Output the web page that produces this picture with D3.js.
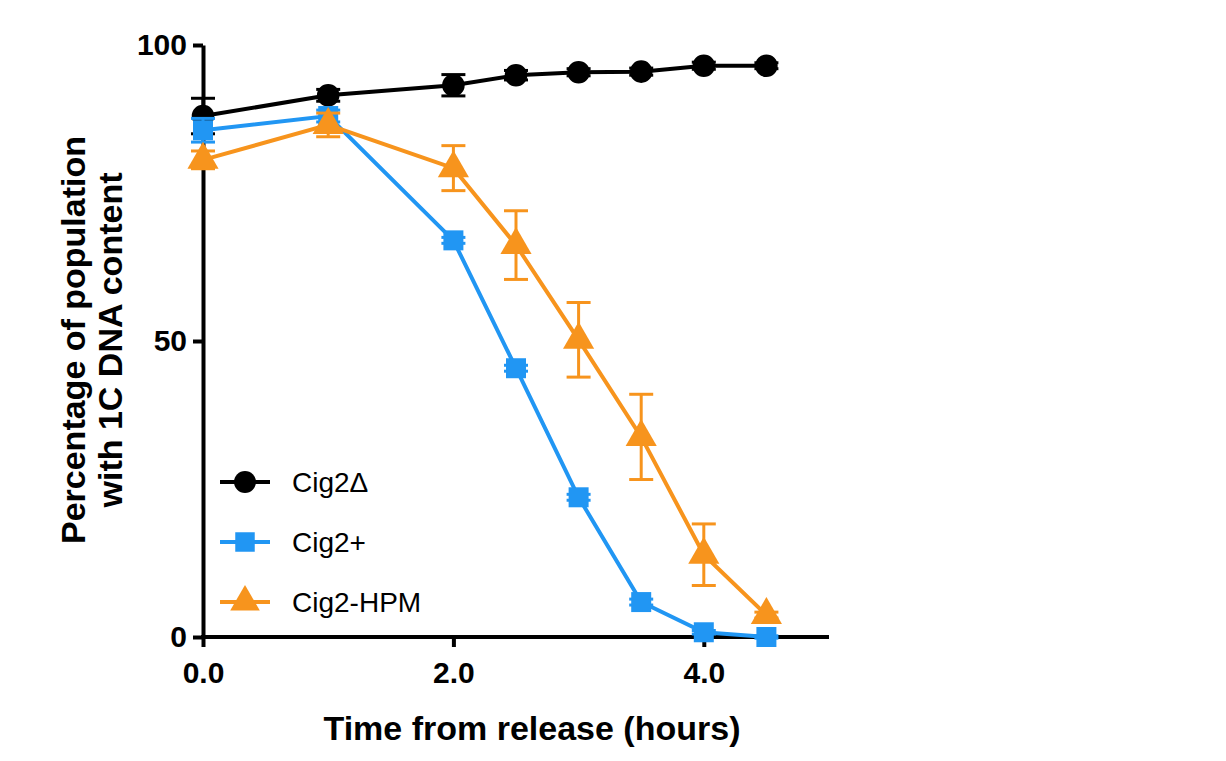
<html>
<head>
<script src="https://d3js.org/d3.v7.min.js"></script>
<style>
  body { margin: 0; background: #fff; }
  text { font-family: "Liberation Sans", Arial, sans-serif; }
</style>
</head>
<body>
<script>
// data
var times = [0, 1, 2, 2.5, 3, 3.5, 4, 4.5];
var cig2Delta = [88, 91.5, 93.2, 94.9, 95.4, 95.5, 96.5, 96.5];
var cig2DeltaErr = [3, 1, 1.8, 0.8, 0.6, 0.6, 0.6, 0.5];
var cig2Plus = [85.6, 88, 67, 45.4, 23.6, 5.9, 0.8, 0];
var cig2PlusErr = [2, 1, 0.5, 0.5, 0.5, 0.5, 0.3, 0.2];
var cig2HPM = [80.6, 86.5, 79.2, 66.2, 50.2, 33.8, 13.9, 3.7];
var cig2HPMErr = [1.5, 2, 3.8, 5.8, 6.3, 7.2, 5.2, 0.5];
var xTicks = [0, 2, 4];
var yTicks = [0, 50, 100];

var series = [
  {name: "Cig2\u0394", vals: cig2Delta, err: cig2DeltaErr, color: "#000000", shape: d3.symbolCircle},
  {name: "Cig2+", vals: cig2Plus, err: cig2PlusErr, color: "#2196f3", shape: d3.symbolSquare},
  {name: "Cig2-HPM", vals: cig2HPM, err: cig2HPMErr, color: "#f7941d", shape: d3.symbolTriangle}
];

var svg = d3.select("body").append("svg").attr("width", 1226).attr("height", 761);

var x = d3.scaleLinear().domain([0, 5]).range([203, 829]);
var y = d3.scaleLinear().domain([0, 100]).range([637, 45]);

// axes
var xAxis = svg.append("g").attr("transform", "translate(0,637)")
  .call(d3.axisBottom(x).tickValues(xTicks).tickSize(10).tickSizeOuter(0));
var yAxis = svg.append("g").attr("transform", "translate(203,0)")
  .call(d3.axisLeft(y).tickValues(yTicks).tickSize(10).tickSizeOuter(0));
[xAxis, yAxis].forEach(function(a) {
  a.select(".domain").attr("stroke", "#000").attr("stroke-width", 4);
  a.selectAll(".tick line").attr("stroke", "#000").attr("stroke-width", 4);
  a.selectAll("text").attr("fill", "#000").style("font-size", "30px").style("font-weight", "bold");
});
xAxis.selectAll("text").attr("dy", "1.1em");
yAxis.selectAll("text").attr("dx", "-0.1em");
// extend x axis domain to the left over the y axis
xAxis.select(".domain").attr("d", "M201,0H829");

svg.append("text").attr("x", 532).attr("y", 740).attr("text-anchor", "middle")
  .style("font-size", "34px").style("font-weight", "bold").text("Time from release (hours)");
var yl = svg.append("text").attr("transform", "translate(85,340) rotate(-90)")
  .attr("text-anchor", "middle").style("font-size", "34px").style("font-weight", "bold");
yl.append("tspan").attr("x", 0).attr("dy", 0).text("Percentage of population");
yl.append("tspan").attr("x", 0).attr("dy", "1.1em").text("with 1C DNA content");

var line = d3.line().x(function(d) { return x(d[0]); }).y(function(d) { return y(d[1]); });

series.forEach(function(s) {
  var pts = times.map(function(t, i) { return [t, s.vals[i], s.err[i]]; });
  var g = svg.append("g");
  g.append("path").attr("d", line(pts)).attr("fill", "none").attr("stroke", s.color).attr("stroke-width", 4);
  var eb = g.selectAll(".eb").data(pts).enter().append("g");
  eb.append("line").attr("x1", d => x(d[0])).attr("x2", d => x(d[0]))
    .attr("y1", d => y(d[1] + d[2])).attr("y2", d => y(d[1] - d[2]))
    .attr("stroke", s.color).attr("stroke-width", 3);
  [1, -1].forEach(function(sg) {
    eb.append("line").attr("x1", d => x(d[0]) - 12).attr("x2", d => x(d[0]) + 12)
      .attr("y1", d => y(d[1] + sg * d[2])).attr("y2", d => y(d[1] + sg * d[2]))
      .attr("stroke", s.color).attr("stroke-width", 3);
  });
  g.selectAll(".pt").data(pts).enter().append("path")
    .attr("transform", d => "translate(" + x(d[0]) + "," + y(d[1]) + ")")
    .attr("d", d3.symbol().type(s.shape).size(s.shape === d3.symbolTriangle ? 420 : 400))
    .attr("fill", s.color);
});

// legend
var leg = svg.selectAll(".leg").data(series).enter().append("g")
  .attr("transform", (d, i) => "translate(245," + (482 + i * 60) + ")");
leg.append("line").attr("x1", -25).attr("x2", 25).attr("stroke", d => d.color).attr("stroke-width", 4);
leg.append("path").attr("d", d => d3.symbol().type(d.shape).size(380)()).attr("fill", d => d.color);
leg.append("text").attr("x", 47).attr("dy", "0.35em").style("font-size", "28px").text(d => d.name);
</script>
</body>
</html>
